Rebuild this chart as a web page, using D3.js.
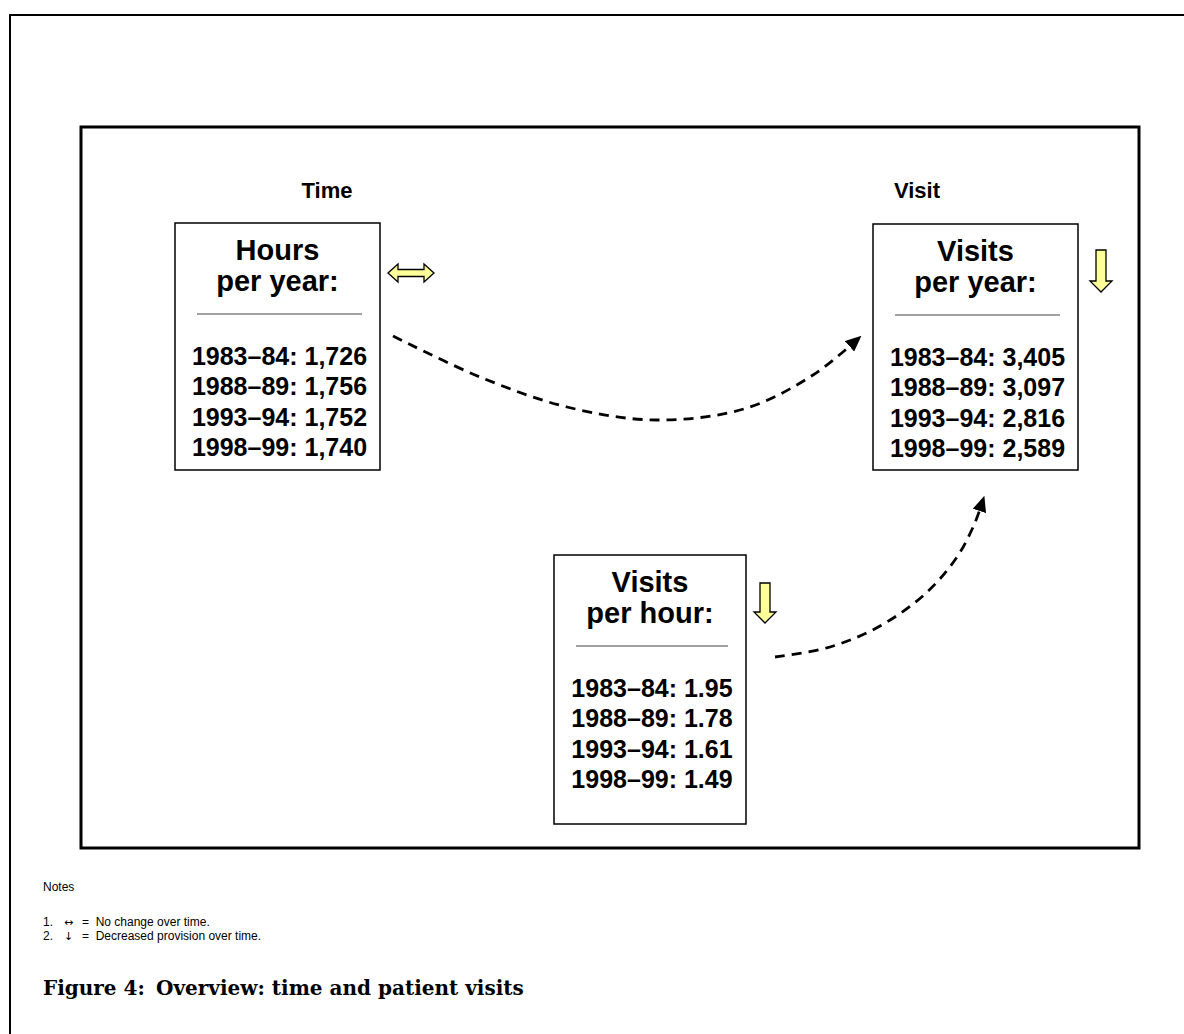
<!DOCTYPE html>
<html>
<head>
<meta charset="utf-8">
<script src="https://cdn.jsdelivr.net/npm/d3@7"></script>
<style>
  html, body { margin: 0; padding: 0; background: #fff; }
  svg { display: block; }
</style>
</head>
<body>
<svg id="chart" width="1184" height="1034"></svg>
<script>
// ---------------- DATA ----------------
const panelTitles = ["Time", "Visit"];
const boxTitles = [["Hours", "per year:"], ["Visits", "per year:"], ["Visits", "per hour:"]];
const periods = ["1983–84", "1988–89", "1993–94", "1998–99"];
const hoursPerYear = [1726, 1756, 1752, 1740];
const visitsPerYear = [3405, 3097, 2816, 2589];
const visitsPerHour = [1.95, 1.78, 1.61, 1.49];
const trends = ["nochange", "down", "down"];
const noteNumbers = ["1.", "2."];
const noteSymbols = ["↔", "↓"];
const noteTexts = ["=  No change over time.", "=  Decreased provision over time."];
const notesHeading = "Notes";
const captionLabel = "Figure 4:";
const captionText = "Overview: time and patient visits";

// ---------------- LAYOUT ----------------
const svg = d3.select("#chart");
const fmtInt = d3.format(",");
const fmtRate = d3.format(".2f");
const sans = "'Liberation Sans', Arial, sans-serif";

const series = [
  { values: hoursPerYear, fmt: fmtInt },
  { values: visitsPerYear, fmt: fmtInt },
  { values: visitsPerHour, fmt: fmtRate }
];
const boxes = [
  { x: 175, y: 223, w: 205, h: 247 },
  { x: 873, y: 224, w: 205, h: 246 },
  { x: 554, y: 555, w: 192, h: 269 }
];
const trendPos = [
  { cx: 411, cy: 273 },
  { cx: 1101, top: 250, bottom: 292 },
  { cx: 765, top: 583, bottom: 623 }
];
const panelTitlePos = [{ x: 327, y: 198 }, { x: 917, y: 198 }];

// outer frames
svg.append("rect").attr("x", 10).attr("y", 15).attr("width", 1300).attr("height", 1200)
  .attr("fill", "none").attr("stroke", "#000").attr("stroke-width", 2);
svg.append("rect").attr("x", 81).attr("y", 127).attr("width", 1058).attr("height", 721)
  .attr("fill", "none").attr("stroke", "#000").attr("stroke-width", 3);

// panel titles
svg.selectAll(".ptitle").data(panelTitles).join("text")
  .attr("class", "ptitle")
  .attr("x", (d, i) => panelTitlePos[i].x)
  .attr("y", (d, i) => panelTitlePos[i].y)
  .attr("text-anchor", "middle")
  .attr("font-family", sans)
  .attr("font-weight", "bold").attr("font-size", 22)
  .text(d => d);

// boxes
const rowScale = d3.scalePoint().domain(periods).range([0, 91]);
boxes.forEach((b, i) => {
  const g = svg.append("g").attr("transform", `translate(${b.x},${b.y})`);
  g.append("rect").attr("width", b.w).attr("height", b.h)
    .attr("fill", "#fff").attr("stroke", "#000").attr("stroke-width", 1.5);
  const cx = b.w / 2;
  g.selectAll(".bt").data(boxTitles[i]).join("text")
    .attr("x", cx).attr("y", (d, j) => 37 + j * 31)
    .attr("text-anchor", "middle")
    .attr("font-family", sans)
    .attr("font-weight", "bold").attr("font-size", 29)
    .text(d => d);
  g.append("line").attr("x1", 22).attr("x2", b.w - 18)
    .attr("y1", 91).attr("y2", 91)
    .attr("stroke", "#444").attr("stroke-width", 1);
  g.selectAll(".row").data(periods).join("text")
    .attr("x", cx + 2)
    .attr("y", d => 142 + rowScale(d))
    .attr("text-anchor", "middle")
    .attr("font-family", sans)
    .attr("font-weight", "bold").attr("font-size", 25)
    .text((d, j) => `${d}: ${series[i].fmt(series[i].values[j])}`);
});

// trend arrows
const yellow = "#ffff99";
trends.forEach((t, i) => {
  const p = trendPos[i];
  let pts;
  if (t === "nochange") {
    const x0 = p.cx - 23, x1 = p.cx + 23, cy = p.cy, hh = 9, sh = 3.5, hl = 10;
    pts = [[x0, cy], [x0 + hl, cy - hh], [x0 + hl, cy - sh], [x1 - hl, cy - sh], [x1 - hl, cy - hh],
           [x1, cy], [x1 - hl, cy + hh], [x1 - hl, cy + sh], [x0 + hl, cy + sh], [x0 + hl, cy + hh]];
  } else {
    const cx = p.cx, sw = 5, hw = 11, hl = 11;
    pts = [[cx - sw, p.top], [cx + sw, p.top], [cx + sw, p.bottom - hl], [cx + hw, p.bottom - hl],
           [cx, p.bottom], [cx - hw, p.bottom - hl], [cx - sw, p.bottom - hl]];
  }
  svg.append("polygon").attr("points", pts.map(q => q.join(",")).join(" "))
    .attr("fill", yellow).attr("stroke", "#000").attr("stroke-width", 1.3)
    .attr("stroke-linejoin", "miter");
});

// dashed connectors
const defs = svg.append("defs");
defs.append("marker").attr("id", "ah")
  .attr("markerUnits", "userSpaceOnUse")
  .attr("viewBox", "0 0 16 14").attr("refX", 2).attr("refY", 7)
  .attr("markerWidth", 16).attr("markerHeight", 14)
  .attr("orient", "auto")
  .append("path").attr("d", "M0,0 L16,7 L0,14 Z").attr("fill", "#000");

const connectors = [
  [[393, 336], [480, 377], [567, 407], [657, 420], [747, 408], [813, 375], [851, 345]],
  [[775, 657], [830, 647], [880, 626], [925, 594], [957, 557], [974, 525], [980, 509]]
];
const line = d3.line().curve(d3.curveCatmullRom.alpha(0.5));
connectors.forEach(c => {
  svg.append("path").attr("d", line(c))
    .attr("fill", "none").attr("stroke", "#000").attr("stroke-width", 2.8)
    .attr("stroke-dasharray", "10,7")
    .attr("marker-end", "url(#ah)");
});

// notes
svg.append("text").attr("x", 43).attr("y", 891)
  .attr("font-family", sans).attr("font-size", 12).text(notesHeading);
noteNumbers.forEach((n, i) => {
  const y = 926 + i * 14;
  svg.append("text").attr("x", 43).attr("y", y).attr("font-family", sans).attr("font-size", 12).text(n);
  svg.append("text").attr("x", 64).attr("y", y).attr("font-family", "'DejaVu Sans', sans-serif").attr("font-size", 11).text(noteSymbols[i]);
  svg.append("text").attr("x", 82).attr("y", y).attr("font-family", sans).attr("font-size", 12)
    .attr("xml:space", "preserve").text(noteTexts[i]);
});

// caption
const serif = "'DejaVu Serif', 'Liberation Serif', serif";
svg.append("text").attr("x", 43).attr("y", 995)
  .attr("font-family", serif).attr("font-weight", "bold")
  .attr("font-size", 20).text(captionLabel);
svg.append("text").attr("x", 156).attr("y", 995)
  .attr("font-family", serif).attr("font-weight", "bold")
  .attr("font-size", 20).text(captionText);
</script>
</body>
</html>
